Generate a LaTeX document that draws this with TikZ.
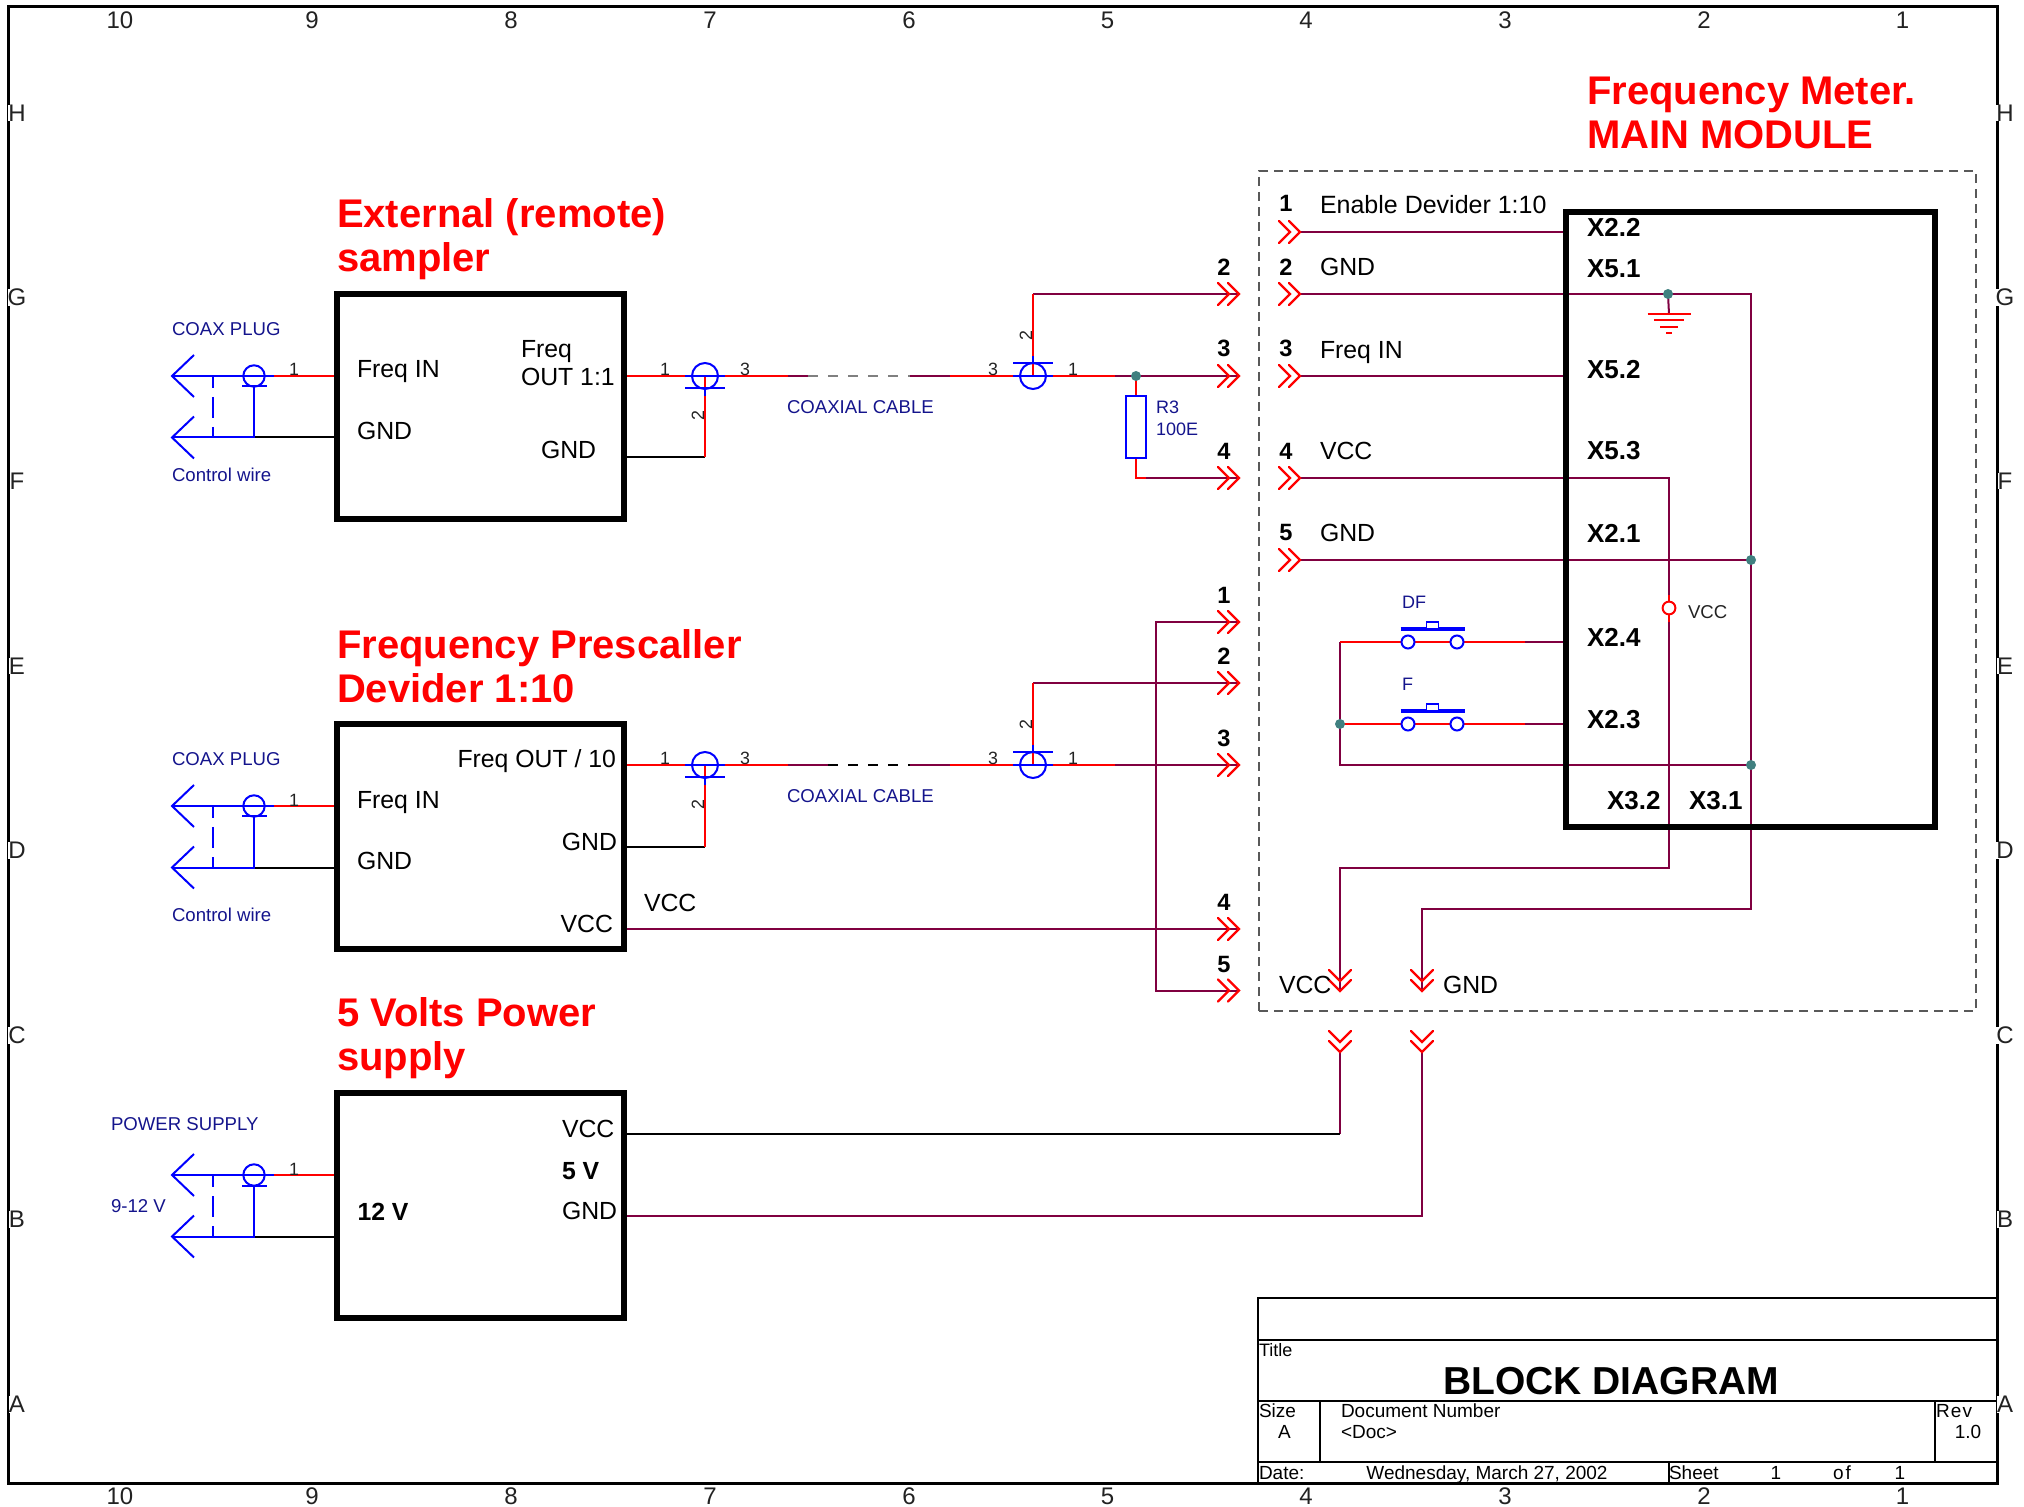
\documentclass[tikz,border=0pt]{standalone}
\usepackage{fontspec}
\setmainfont{Liberation Sans}
\definecolor{wirepurple}{HTML}{800040}
\definecolor{navytext}{HTML}{14148C}
\definecolor{dotteal}{HTML}{408080}
\definecolor{inkgrey}{HTML}{222222}
\newcommand{\fs}[1]{\fontsize{#1}{#1}\selectfont}
\tikzset{
  wr/.style={draw=red,line width=1pt},
  wp/.style={draw=wirepurple,line width=1pt,line join=miter},
  wk/.style={draw=black,line width=1pt},
  wb/.style={draw=blue,line width=1pt},
  blockbox/.style={draw=black,line width=3pt,anchor=north west,inner sep=0pt,outer sep=0pt,minimum width=143.5pt,minimum height=112.5pt},
  mainbox/.style={draw=black,line width=3pt,anchor=north west,inner sep=0pt,outer sep=0pt,minimum width=184.5pt,minimum height=307.5pt},
  dashbox/.style={draw=gray!70!black,line width=.6pt,dash pattern=on 4.5pt off 3pt},
  tlabel/.style={inner sep=0pt,outer sep=0pt,anchor=base west,yshift=-.5pt,font=\fs{12.4}},
  tright/.style={inner sep=0pt,outer sep=0pt,anchor=base east,yshift=-.5pt,font=\fs{12.4}},
  tbold/.style={inner sep=0pt,outer sep=0pt,anchor=base west,yshift=-.5pt,font=\fs{13}\bfseries},
  tnum/.style={inner sep=0pt,outer sep=0pt,anchor=base,font=\fs{11.8}\bfseries},
  thead/.style={inner sep=0pt,outer sep=0pt,anchor=base west,text=red,font=\fs{20}\bfseries},
  tblue/.style={inner sep=0pt,outer sep=0pt,anchor=base west,yshift=-.4pt,text=navytext,font=\fs{9.3}},
  tpin/.style={inner sep=0pt,outer sep=0pt,anchor=base,text=inkgrey,font=\fs{8.9}},
  tpinrot/.style={inner sep=0pt,outer sep=0pt,anchor=center,text=inkgrey,font=\fs{8.9},rotate=90},
  tframe/.style={inner sep=0pt,outer sep=0pt,anchor=base,yshift=-.5pt,fill=white,text=inkgrey,font=\fs{12}},
  ttb/.style={inner sep=0pt,outer sep=0pt,anchor=base west,font=\fs{9.5}},
  ttc/.style={inner sep=0pt,outer sep=0pt,anchor=base,font=\fs{9.5}},
  jdot/.style={circle,fill=dotteal,inner sep=0pt,outer sep=0pt,minimum size=5pt},
  chevR/.pic={\draw[red,line width=1.1pt,line cap=round] (-11,-11)--(0,0)--(-11,11) (-21,-11)--(-10,0)--(-21,11);},
  chevD/.pic={\draw[red,line width=1.1pt,line cap=round] (-11,-11)--(0,0)--(11,-11) (-11,-21)--(0,-10)--(11,-21);},
  plug/.pic={
    \draw[wb] (-60,-21)--(-82,0)--(-60,21) (-60,40.5)--(-82,61.5)--(-60,82.5);
    \draw[wb] (-82,0)--(20,0) (-82,61.5)--(0,61.5)--(0,10.5) (-12,10.5)--(13,10.5);
    \draw[wb] (0,0) circle[radius=10.7];
    \draw[blue,line width=1pt,dash pattern=on 10.5pt off 4.5pt,dash phase=4.5pt] (-41,0)--(-41,61.5);
  },
  coaxdown/.pic={
    \draw[wb] (0,0) circle[radius=13];
    \draw[wb] (-20,0)--(20,0) (-20,12)--(20,12) (0,12)--(0,20);
  },
  coaxup/.pic={
    \draw[wb] (0,0) circle[radius=13];
    \draw[wb] (-20,0)--(20,0) (-20,-13)--(20,-13) (0,-13)--(0,-20);
  },
  pushsw/.pic={
    \draw[wb,fill=white] (-24.5,0) circle[radius=6.5] (24.5,0) circle[radius=6.5];
    \draw[blue,line width=2pt] (-32,-13)--(32,-13);
    \draw[blue,line width=.9pt,fill=white] (-6,-13) rectangle (6,-20);
  }
}
\begin{document}
\begin{tikzpicture}[x=.5pt,y=-.5pt]
\useasboundingbox (0,0) rectangle (2024,1507);
% outer frame
\node[draw=black,line width=1.5pt,anchor=north west,inner sep=0pt,outer sep=0pt,minimum width=994.5pt,minimum height=738pt] (frame) at (8,7) {};
\foreach \n/\x in {10/120,9/312,8/511,7/710,6/909,5/1107.5,4/1306,3/1505,2/1704,1/1902.5}{
  \node[tframe] (top\n) at (\x,28) {\n};
  \node[tframe] (bot\n) at (\x,1503) {\n};
}
\foreach \l/\y in {H/120.5,G/304.5,F/488.5,E/673.5,D/857.5,C/1042.5,B/1226.5,A/1411.5}{
  \node[tframe] (lt\l) at (17,\y) {\l};
  \node[tframe] (rt\l) at (2005,\y) {\l};
}
% title block
\coordinate (tb1) at (1258,1298);
\coordinate (tbr1) at (1997,1298);
\coordinate (tb2) at (1258,1340);
\coordinate (tbr2) at (1997,1340);
\coordinate (tb3) at (1258,1401);
\coordinate (tbr3) at (1997,1401);
\coordinate (tb4) at (1258,1462);
\coordinate (tbr4) at (1997,1462);
\coordinate (tb5) at (1258,1483);
\draw[line width=1pt] (tb5)--(tb1)--(tbr1);
\draw[line width=1.1pt] (tb2)--(tbr2) (tb3)--(tbr3) (tb4)--(tbr4);
\draw[line width=.8pt] (1320,1401)--(1320,1462) (1935,1401)--(1935,1462);
\draw[line width=1pt] (1668.5,1462)--(1668.5,1483);
\node[ttb,font=\fs{9}] (ttitle) at (1259,1356) {Title};
\node[inner sep=0pt,anchor=base,font=\fs{19.5}\bfseries] (bigtitle) at (1611,1394) {BLOCK DIAGRAM};
\node[ttb] (tsize) at (1259,1417) {Size};
\node[ttc] (tsizev) at (1284.5,1438) {A};
\node[ttb] (tdoc) at (1341,1417) {Document Number};
\node[ttb] (tdocv) at (1341,1438) {<Doc>};
\node[ttb] (trev) at (1936,1417) {R\kern.6pt e\kern.6pt v};
\node[ttc] (trevv) at (1968,1438) {1.0};
\node[ttb] (tdate) at (1259,1479) {Date:};
\node[ttc] (tdatev) at (1487,1479) {Wednesday, March 27, 2002};
\node[ttb] (tsheet) at (1669,1479) {Sheet};
\node[ttc] (ts1) at (1776,1479) {1};
\node[ttc] (tsof) at (1842,1479) {o\kern1pt f};
\node[ttc] (ts2) at (1900,1479) {1};
% dashed module outline
\draw[dashbox] (1259,1011)--(1976,1011)--(1976,171)--(1259,171)--cycle;
% named points of the wiring
\coordinate (eL1) at (274,376); \coordinate (eL1b) at (337,376); \coordinate (eL2) at (254,437.5); \coordinate (eL2b) at (337,437.5);
\coordinate (pL1) at (274,806); \coordinate (pL1b) at (337,806); \coordinate (pL2) at (254,867.5); \coordinate (pL2b) at (337,867.5);
\coordinate (sL1) at (274,1175); \coordinate (sL1b) at (337,1175); \coordinate (sL2) at (254,1236.5); \coordinate (sL2b) at (337,1236.5);
% first coax run
\coordinate (eO) at (624,376); \coordinate (c1) at (705,376); \coordinate (c1a) at (788,376); \coordinate (c1b) at (808,376); \coordinate (c1c) at (910,376); \coordinate (c1d) at (950,376); \coordinate (c2) at (1033,376);
\coordinate (c1g) at (705,457.5); \coordinate (eG) at (624,457.5);
\coordinate (c2r) at (1115,376); \coordinate (jr) at (1136,376); \coordinate (t3) at (1239,376);
\coordinate (c2up) at (1033,294); \coordinate (t2) at (1239,294);
\coordinate (rb) at (1136,458); \coordinate (rbb) at (1136,478); \coordinate (rbc) at (1146,478); \coordinate (t4) at (1239,478);
\draw[wr] (eL1)--(eL1b) (eO)--(c1a) (c1d)--(c2r);
\draw[wk] (eL2)--(eL2b) (eG)--(c1g);
\draw[wr] (c1g)--(c1);
\draw[wp] (c1a)--(c1b) (c1c)--(c1d) (c2r)--(t3);
\draw[gray,line width=1pt,dash pattern=on 5pt off 5pt] (c1b)--(c1c);
\draw[wp] (c2up)--(t2);
\draw[wr] (c2)--(c2up);
\draw[wp] (rbc)--(t4);
\draw[wr] (jr)--(rbb)--(rbc);
% second coax run
\coordinate (pO) at (624,765); \coordinate (d1) at (705,765); \coordinate (d1a) at (788,765); \coordinate (d1b) at (828,765); \coordinate (d1c) at (910,765); \coordinate (d1d) at (950,765); \coordinate (d2) at (1033,765);
\coordinate (d1g) at (705,847); \coordinate (pG) at (624,847);
\coordinate (d2r) at (1115,765); \coordinate (u3) at (1239,765);
\coordinate (d2up) at (1033,683); \coordinate (u2) at (1239,683);
\coordinate (bus1) at (1156,622); \coordinate (bus5) at (1156,990.5); \coordinate (u1) at (1239,622); \coordinate (u5) at (1239,990.5);
\coordinate (pV) at (624,929); \coordinate (u4) at (1239,929);
\draw[wr] (pL1)--(pL1b) (pO)--(d1a) (d1d)--(d2r);
\draw[wk] (pL2)--(pL2b) (pG)--(d1g);
\draw[wr] (d1g)--(d1);
\draw[wp] (d1a)--(d1b) (d1c)--(d1d) (d2r)--(u3);
\draw[black,line width=.8pt,dash pattern=on 5pt off 5pt] (d1b)--(d1c);
\draw[wp] (d2up)--(u2);
\draw[wr] (d2)--(d2up);
\draw[wp] (pV)--(u4);
\draw[wp] (u1)--(bus1)--(bus5)--(u5);
% power wires
\coordinate (sV) at (624,1134); \coordinate (sVc) at (1340,1134); \coordinate (vD2) at (1340,1052);
\coordinate (sGn) at (624,1216); \coordinate (sGc) at (1422,1216); \coordinate (gD2) at (1422,1052);
\draw[wr] (sL1)--(sL1b);
\draw[wk] (sL2)--(sL2b);
\draw[wp] (sVc)--(vD2);
\draw[wk] (sV)--(sVc);
\draw[wp] (sGn)--(sGc)--(gD2);
% module wires
\coordinate (m1) at (1300,232); \coordinate (m1e) at (1566,232);
\coordinate (m2) at (1300,294); \coordinate (gj) at (1668,294); \coordinate (m2c) at (1751,294); \coordinate (m2d) at (1751,909); \coordinate (m2e) at (1422,909); \coordinate (gD) at (1422,991);
\coordinate (m3) at (1300,376); \coordinate (m3e) at (1566,376);
\coordinate (m4) at (1300,478); \coordinate (m4c) at (1669,478); \coordinate (m4d) at (1669,868); \coordinate (m4e) at (1340,868); \coordinate (vD) at (1340,991);
\coordinate (m5) at (1300,560); \coordinate (j5) at (1751,560);
\coordinate (sA) at (1340,642); \coordinate (sB) at (1340,724); \coordinate (sC) at (1340,765); \coordinate (j7) at (1751,765);
\coordinate (swd) at (1432.5,642); \coordinate (swf) at (1432.5,724);
\coordinate (aR) at (1525,642); \coordinate (aE) at (1566,642);
\coordinate (bR) at (1525,724); \coordinate (bE) at (1566,724);
\coordinate (gb) at (1669,314); \coordinate (vc) at (1669,608);
\draw[wp] (m1)--(m1e);
\draw[wp] (m2)--(m2c)--(m2d)--(m2e)--(gD);
\draw[wp] (m3)--(m3e);
\draw[wp] (m4)--(m4c)--(m4d)--(m4e)--(vD);
\draw[wp] (m5)--(j5);
\draw[wp] (sA)--(sC)--(j7);
\draw[wp] (aR)--(aE) (bR)--(bE);
\draw[wr] (sA)--(aR) (sB)--(bR);
\draw[wp] (gj)--(gb);
\draw[red,line width=1pt] (gb)++(-21.5,0)--++(43,0) (gb)++(-15,6.5)--++(30,0) (gb)++(-9,13)--++(18,0) (gb)++(-3,19)--++(6,0);
\draw[wr] (1669,595)--(1669,622);
\node[circle,draw=red,line width=1pt,fill=white,inner sep=0pt,minimum size=6.4pt] (vcc) at (vc) {};
% symbols
\pic at (254,376) {plug};
\pic at (254,806) {plug};
\pic at (254,1175) {plug};
\pic at (c1) {coaxdown};
\pic at (c2) {coaxup};
\pic at (d1) {coaxdown};
\pic at (d2) {coaxup};
\pic at (swd) {pushsw};
\pic at (swf) {pushsw};
\node[draw=blue,line width=1pt,fill=white,inner sep=0pt,outer sep=0pt,minimum width=10pt,minimum height=31pt] (R3) at (1136,427) {};
\foreach \y in {294,376,478,622,683,765,929,990.5}{\pic at (1239,\y) {chevR};}
\foreach \y in {232,294,376,478,560}{\pic at (1300,\y) {chevR};}
\foreach \p in {vD,gD,vD2,gD2}{\pic at (\p) {chevD};}
% junctions
\node[jdot] (d-a) at (jr) {};
\node[jdot] (d-b) at (gj) {};
\node[jdot] (d-c) at (j5) {};
\node[jdot] (d-d) at (j7) {};
\node[jdot] (d-e) at (sB) {};
% blocks
\node[blockbox] (ext) at (337,294) {};
\node[blockbox] (pre) at (337,724) {};
\node[blockbox] (psu) at (337,1093) {};
\node[mainbox] (main) at (1566,212) {};
% headings
\node[thead] (h1a) at (337,228) {External (remote)};
\node[thead] (h1b) at (337,272) {sampler};
\node[thead] (h2a) at (337,658.5) {Frequency Prescaller};
\node[thead] (h2b) at (337,702.5) {Devider 1:10};
\node[thead] (h3a) at (337,1026.5) {5 Volts Power};
\node[thead] (h3b) at (337,1070.5) {supply};
\node[thead] (h4a) at (1587,105) {Frequency Meter.};
\node[thead] (h4b) at (1587,149) {MAIN MODULE};
% block labels
\node[tlabel] (x1) at (357,377) {Freq IN};
\node[tlabel] (x2) at (357,439) {GND};
\node[tlabel] (x3) at (521,357) {Freq};
\node[tlabel] (x4) at (521,385) {OUT 1:1};
\node[tlabel] (x5) at (541,458) {GND};
\node[tlabel] (y1) at (357,808) {Freq IN};
\node[tlabel] (y2) at (357,869) {GND};
\node[tright] (y3) at (616,767) {Freq OUT / 10};
\node[tright] (y4) at (617,849) {GND};
\node[tright] (y5) at (613,931) {VCC};
\node[tlabel] (y6) at (644,910) {VCC};
\node[tlabel] (z1) at (562,1136) {VCC};
\node[tlabel,font=\fs{12.4}\bfseries] (z2) at (562,1178) {5 V};
\node[tlabel] (z3) at (562,1218) {GND};
\node[tlabel,font=\fs{12.4}\bfseries] (z4) at (357.5,1219) {12 V};
% blue labels
\node[tblue] (b1) at (172,335) {COAX PLUG};
\node[tblue] (b2) at (172,481) {Control wire};
\node[tblue] (b3) at (172,765) {COAX PLUG};
\node[tblue] (b4) at (172,921) {Control wire};
\node[tblue] (b5) at (111,1130) {POWER SUPPLY};
\node[tblue] (b6) at (111,1212) {9-12 V};
\node[tblue] (b7) at (787,413) {COAXIAL CABLE};
\node[tblue] (b8) at (787,802) {COAXIAL CABLE};
\node[tblue,font=\fs{9}] (b9) at (1156,413) {R3};
\node[tblue,font=\fs{9}] (b10) at (1156,435) {100E};
\node[tblue,font=\fs{9}] (b11) at (1402,608) {DF};
\node[tblue,font=\fs{9}] (b12) at (1402,690) {F};
\node[tblue,font=\fs{9.3},text=inkgrey] (b13) at (1688,618) {VCC};
% pin numbers
\node[tpin] (p1) at (294,376) {1};
\node[tpin] (p2) at (294,806) {1};
\node[tpin] (p3) at (294,1175) {1};
\node[tpin] (p4) at (665,376) {1};
\node[tpin] (p5) at (745,376) {3};
\node[tpinrot] (p6) at (698,416) {2};
\node[tpin] (p7) at (993,376) {3};
\node[tpin] (p8) at (1073,376) {1};
\node[tpinrot] (p9) at (1026,336) {2};
\node[tpin] (p10) at (665,765) {1};
\node[tpin] (p11) at (745,765) {3};
\node[tpinrot] (p12) at (698,805) {2};
\node[tpin] (p13) at (993,765) {3};
\node[tpin] (p14) at (1073,765) {1};
\node[tpinrot] (p15) at (1026,725) {2};
% connector numbers
\node[tnum] (n2) at (1224,276) {2};
\node[tnum] (n3) at (1224,357) {3};
\node[tnum] (n4) at (1224,460) {4};
\node[tnum] (o1) at (1224,604) {1};
\node[tnum] (o2) at (1224,665) {2};
\node[tnum] (o3) at (1224,747) {3};
\node[tnum] (o4) at (1224,910) {4};
\node[tnum] (o5) at (1224,972) {5};
\node[tnum] (q1) at (1286,212) {1};
\node[tnum] (q2) at (1286,276) {2};
\node[tnum] (q3) at (1286,357) {3};
\node[tnum] (q4) at (1286,460) {4};
\node[tnum] (q5) at (1286,541) {5};
\node[tlabel,font=\fs{12.5}] (r1) at (1320,213) {Enable Devider 1:10};
\node[tlabel] (r2) at (1320,275) {GND};
\node[tlabel] (r3) at (1320,357.5) {Freq IN};
\node[tlabel] (r4) at (1320,459) {VCC};
\node[tlabel] (r5) at (1320,541) {GND};
\node[tlabel] (r6) at (1279,992) {VCC};
\node[tlabel] (r7) at (1443,992) {GND};
% connector references
\node[tbold] (k1) at (1587,236) {X2.2};
\node[tbold] (k2) at (1587,277) {X5.1};
\node[tbold] (k3) at (1587,378) {X5.2};
\node[tbold] (k4) at (1587,459) {X5.3};
\node[tbold] (k5) at (1587,542) {X2.1};
\node[tbold] (k6) at (1587,646) {X2.4};
\node[tbold] (k7) at (1587,728) {X2.3};
\node[tbold] (k8) at (1607,809) {X3.2};
\node[tbold] (k9) at (1689,809) {X3.1};
\end{tikzpicture}
\end{document}
